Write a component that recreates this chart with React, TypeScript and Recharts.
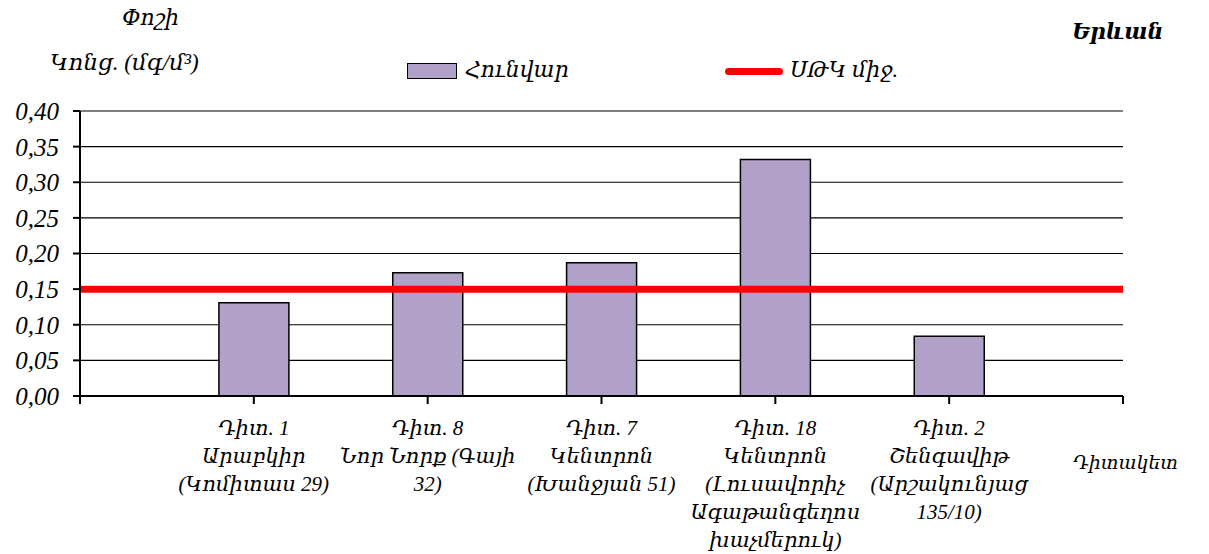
import React from "react";
import { ComposedChart, Bar, Line, XAxis, YAxis, CartesianGrid, Legend } from "recharts";

const positions = [0, 1, 2, 3, 4, 5, 6];
const stationLabels: string[][] = [
  [],
  ["Դիտ. 1", "Արաբկիր", "(Կոմիտաս 29)"],
  ["Դիտ. 8", "Նոր Նորք (Գայի", "32)"],
  ["Դիտ. 7", "Կենտրոն", "(Խանջյան 51)"],
  ["Դիտ. 18", "Կենտրոն", "(Լուսավորիչ", "Ագաթանգեղոս", "խաչմերուկ)"],
  ["Դիտ. 2", "Շենգավիթ", "(Արշակունյաց", "135/10)"],
  [],
];
const januaryValues: (number | null)[] = [null, 0.131, 0.173, 0.187, 0.332, 0.084, null];
const normValues: number[] = [0.15, 0.15, 0.15, 0.15, 0.15, 0.15, 0.15];
const yTicks = [0, 0.05, 0.1, 0.15, 0.2, 0.25, 0.3, 0.35, 0.4];

const seriesBarName = "Հունվար";
const seriesLineName = "ՍԹԿ միջ.";
const titleText = "Երևան";
const yTitle1 = "Փոշի";
const yTitle2 = "Կոնց. (մգ/մ³)";
const xTitle = "Դիտակետ";

const data = positions.map((p, i) => ({
  x: p,
  jan: januaryValues[i],
  norm: normValues[i],
}));

const FONT = "'Liberation Serif', 'DejaVu Serif', serif";
const BAR_COLOR = "#B1A0C7";

const XTick = (props: any) => {
  const { x, y, payload } = props;
  const lines = stationLabels[payload.value] || [];
  return (
    <g>
      {lines.map((l, i) => (
        <text
          key={i}
          x={x}
          y={y + 31 + i * 28}
          textAnchor="middle"
          fontFamily={FONT}
          fontStyle="italic"
          fontSize={21}
          fill="#000"
        >
          {l}
        </text>
      ))}
    </g>
  );
};

const LegendContent = () => (
  <div style={{ position: "relative", width: 1209, height: 0, fontFamily: FONT, fontStyle: "italic", fontSize: 22 }}>
    <div
      style={{
        position: "absolute",
        left: 407,
        top: 0,
        width: 48,
        height: 14,
        background: BAR_COLOR,
        border: "1.5px solid #000",
      }}
    />
    <div style={{ position: "absolute", left: 465, top: -6, lineHeight: "26px", whiteSpace: "nowrap" }}>{seriesBarName}</div>
    <div
      style={{
        position: "absolute",
        left: 725,
        top: 5,
        width: 58,
        height: 7,
        background: "#FF0000",
        borderRadius: 4,
      }}
    />
    <div style={{ position: "absolute", left: 790, top: -6, lineHeight: "26px", whiteSpace: "nowrap" }}>{seriesLineName}</div>
  </div>
);

const textStyle: React.CSSProperties = {
  position: "absolute",
  fontFamily: FONT,
  fontStyle: "italic",
  fontSize: 22,
  lineHeight: "26px",
  whiteSpace: "nowrap",
  color: "#000",
};

export default function App() {
  return (
    <div style={{ position: "absolute", left: 0, top: 0, width: 1209, height: 554, background: "#fff" }}>
      <ComposedChart
        width={1209}
        height={554}
        data={data}
        margin={{ top: 111, right: 86, bottom: 10, left: 10 }}
      >
        <CartesianGrid horizontal vertical={false} stroke="#000" strokeWidth={1.2} />
        <XAxis
          dataKey="x"
          type="number"
          domain={[0, 6]}
          ticks={positions}
          interval={0}
          tick={<XTick />}
          tickSize={8}
          tickMargin={0}
          height={148}
          axisLine={{ stroke: "#000", strokeWidth: 2 }}
          tickLine={{ stroke: "#000", strokeWidth: 2 }}
        />
        <YAxis
          domain={[0, 0.4]}
          ticks={yTicks}
          interval={0}
          width={70}
          tickSize={7}
          tickMargin={14}
          tickFormatter={(v: number) => v.toFixed(2).replace(".", ",")}
          tick={{ fontFamily: FONT, fontStyle: "italic", fontSize: 25, fill: "#000" }}
          axisLine={{ stroke: "#000", strokeWidth: 2 }}
          tickLine={{ stroke: "#000", strokeWidth: 2 }}
        />
        <YAxis
          yAxisId="right"
          orientation="right"
          domain={[0, 0.4]}
          tick={false}
          tickLine={false}
          width={0}
          axisLine={{ stroke: "#000", strokeWidth: 2 }}
        />
        <Legend
          verticalAlign="top"
          content={<LegendContent />}
          wrapperStyle={{ position: "absolute", top: 63, left: 0, width: 1209, height: 0 }}
        />
        <Bar
          dataKey="jan"
          name={seriesBarName}
          barSize={70}
          fill={BAR_COLOR}
          stroke="#000"
          strokeWidth={1.5}
          isAnimationActive={false}
        />
        <Line
          dataKey="norm"
          name={seriesLineName}
          stroke="#FF0000"
          strokeWidth={7}
          dot={false}
          activeDot={false}
          isAnimationActive={false}
        />
      </ComposedChart>
      <div style={{ ...textStyle, left: 122, top: 5 }}>{yTitle1}</div>
      <div style={{ ...textStyle, left: 50, top: 50, fontSize: 23 }}>{yTitle2}</div>
      <div style={{ ...textStyle, left: 1072, top: 19, fontWeight: "bold" }}>{titleText}</div>
      <div style={{ ...textStyle, left: 1073, top: 450, fontSize: 19 }}>{xTitle}</div>
    </div>
  );
}
